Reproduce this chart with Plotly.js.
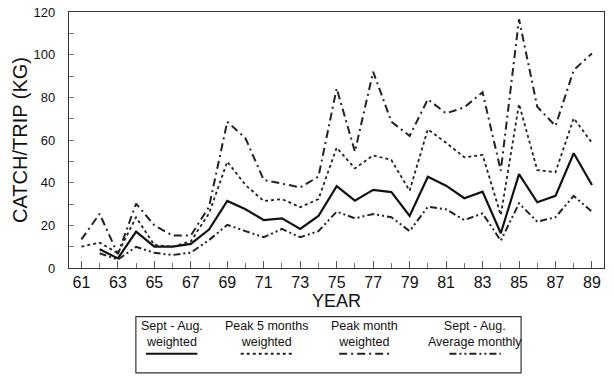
<!DOCTYPE html>
<html>
<head>
<meta charset="utf-8">
<script src="https://cdn.plot.ly/plotly-3.0.1.min.js"></script>
<style>html,body{margin:0;padding:0;background:#fff;}#chart{width:614px;height:377px;}</style>
</head>
<body>
<div id="chart"></div>
<script>
// Years
var years = [61,62,63,64,65,66,67,68,69,70,71,72,73,74,75,76,77,78,79,80,81,82,83,84,85,86,87,88,89];

// Sept - Aug. weighted (starts 62)
var septAugWeighted = [null,8.8,4.5,17,10,10,11.3,18,31.4,27.5,22.5,23.3,18.3,24.4,38.4,31.6,36.6,35.6,24.4,42.8,38.6,32.7,35.8,16.3,44,30.8,33.8,53.8,38.9];

// Peak 5 months weighted
var peak5Weighted = [10,11.9,6.9,23.8,10.8,10,12.5,25.6,49.8,38.9,31.4,32.3,28.5,32.3,56.4,46.7,52.8,50.6,36.2,65,58.7,51.9,53,24.8,76.9,45.9,44.9,70.2,58.7];

// Peak month weighted
var peakMonthWeighted = [13.4,25.4,6.5,30.2,20,15.2,15.2,28.7,68.6,60.8,41.3,39.7,37.8,42.8,84.2,54.5,92,68.6,61.9,79.1,72.5,75.3,82.4,45.6,116.6,75.6,66.6,92.8,100.6];

// Sept - Aug. Average monthly (starts 62)
var septAugAvgMonthly = [null,6.9,3.9,9.9,7.1,6.1,7.2,13.1,20.2,17.3,14.4,18.3,14.4,17.3,26.4,23.3,25.3,23.8,17.3,28.7,27.5,22.5,25.6,12.8,30.3,21.7,23.8,33.8,26.4];

var legendLabels = ["Sept - Aug.<br>weighted","Peak 5 months<br>weighted","Peak month<br>weighted","Sept - Aug.<br>Average monthly"];

var styles = [
  {color:'#111', width:2.2, dash:'solid'},
  {color:'#222', width:1.8, dash:'dot'},
  {color:'#222', width:2, dash:'8px,4px,2px,4px'},
  {color:'#222', width:2, dash:'7px,3px,2px,3px,2px,3px'}
];
var series = [septAugWeighted, peak5Weighted, peakMonthWeighted, septAugAvgMonthly];

var traces = series.map(function(s,i){
  return {x: years, y: s, type:'scatter', mode:'lines', name: legendLabels[i].replace('<br>',' '),
    line: styles[i], connectgaps:false, hoverinfo:'skip'};
});

// Legend drawn as annotations + line samples in paper coords
var colCenters = [0.192, 0.369, 0.553, 0.759];
var annotations = [];
var shapes = [];
legendLabels.forEach(function(lab,i){
  annotations.push({xref:'paper', yref:'paper', x:colCenters[i], y:-0.256, text:lab, showarrow:false,
    xanchor:'center', yanchor:'middle', font:{family:'Liberation Sans, Arial', size:12.5, color:'#111'}, align:'center'});
  shapes.push({type:'line', xref:'paper', yref:'paper', x0:colCenters[i]-0.048, x1:colCenters[i]+0.048,
    y0:-0.335, y1:-0.335, line:styles[i]});
});
// legend box
shapes.push({type:'rect', xref:'paper', yref:'paper', x0:0.125, x1:0.845, y0:-0.19, y1:-0.41,
  line:{color:'#333', width:1.2}, fillcolor:'rgba(0,0,0,0)'});

var layout = {
  width:614, height:377,
  margin:{l:69, r:10, t:12, b:109},
  paper_bgcolor:'#fff', plot_bgcolor:'#fff',
  showlegend:false,
  font:{family:'Liberation Sans, Arial', color:'#111'},
  xaxis:{
    range:[60.32, 89.66], tick0:61, dtick:2, ticks:'inside', ticklen:7, tickcolor:'#555',
    minor:{dtick:1, ticks:'inside', ticklen:5, tickcolor:'#777'},
    showgrid:false, zeroline:false, showline:true, linecolor:'#333', linewidth:1.2, mirror:true,
    tickfont:{size:16, color:'#111'}, ticklabelstandoff:0,
    title:{text:'YEAR', font:{size:18, color:'#111'}, standoff:0}
  },
  yaxis:{
    range:[0,120], tick0:0, dtick:20, ticks:'inside', ticklen:5, tickcolor:'#777',
    minor:{dtick:10, ticks:'inside', ticklen:5, tickcolor:'#777'},
    showgrid:false, zeroline:false, showline:true, linecolor:'#333', linewidth:1.2, mirror:true,
    tickfont:{size:13, color:'#111'}, ticklabelstandoff:10,
    title:{text:'CATCH/TRIP (KG)', font:{size:20, color:'#111'}, standoff:0}
  },
  annotations:annotations,
  shapes:shapes
};

Plotly.newPlot('chart', traces, layout, {staticPlot:true, displayModeBar:false});
</script>
</body>
</html>
